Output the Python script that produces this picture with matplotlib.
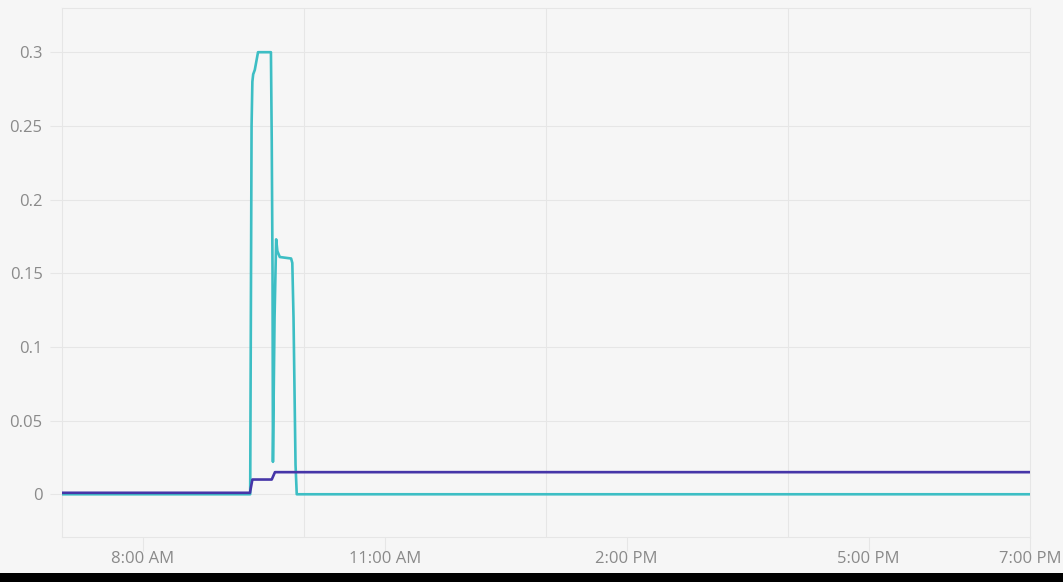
import numpy as np
import matplotlib
matplotlib.use("Agg")
import matplotlib.pyplot as plt
from matplotlib.patches import Rectangle

plt.rcParams['font.family'] = ['Open Sans', 'DejaVu Sans']

# time in hours of the day
purple_t = [7.0, 9.33, 9.36, 9.60, 9.64, 19.0]
purple_v = [0.001, 0.001, 0.01, 0.01, 0.015, 0.015]

cyan_t = [7.0, 9.333, 9.35, 9.36, 9.37, 9.39, 9.43, 9.59, 9.60, 9.61, 9.615,
          9.635, 9.655, 9.67, 9.70, 9.84, 9.855, 9.87, 9.895, 9.91, 19.0]
cyan_v = [0.0, 0.0, 0.25, 0.28, 0.285, 0.288, 0.3, 0.3, 0.24, 0.15, 0.022,
          0.12, 0.173, 0.165, 0.161, 0.16, 0.157, 0.12, 0.02, 0.0, 0.0]

xtick_pos = [8, 11, 14, 17, 19]
xtick_lab = ["8:00 AM", "11:00 AM", "2:00 PM", "5:00 PM", "7:00 PM"]
xgrid_pos = [10, 13, 16, 19]
ytick_pos = [0, 0.05, 0.1, 0.15, 0.2, 0.25, 0.3]
ytick_lab = ["0", "0.05", "0.1", "0.15", "0.2", "0.25", "0.3"]

BG = '#f6f6f6'
GRID = '#e6e6e6'
TXT = '#8a8a8a'

fig = plt.figure(figsize=(10.63, 5.82), dpi=100, facecolor=BG)
ax = fig.add_axes([62/1063, 1-537/582, (1030-62)/1063, (537-8)/582])
ax.set_facecolor(BG)

ax.plot(cyan_t, cyan_v, color='#3dbec4', lw=1.9, zorder=3)
ax.plot(purple_t, purple_v, color='#4636a8', lw=1.9, zorder=4)

ax.set_xlim(7, 19)
ax.set_ylim(-0.029, 0.33)

ax.set_xticks(xtick_pos)
ax.set_xticklabels(xtick_lab)
ax.set_xticks(xgrid_pos, minor=True)
ax.set_yticks(ytick_pos)
ax.set_yticklabels(ytick_lab)

ax.tick_params(axis='x', which='major', length=10, width=0.8, color=GRID,
               labelsize=12, labelcolor=TXT, pad=0)
ax.tick_params(axis='x', which='minor', length=0)
ax.tick_params(axis='y', length=9, width=0.8, color=GRID,
               labelsize=12, labelcolor=TXT, pad=5)

ax.grid(True, axis='y', which='major', color=GRID, lw=0.8)
ax.grid(True, axis='x', which='minor', color=GRID, lw=0.8)
ax.grid(False, axis='x', which='major')
ax.set_axisbelow(True)

for s in ax.spines.values():
    s.set_color(GRID)
    s.set_linewidth(0.8)

# dark strip along the bottom edge of the screenshot
fig.patches.append(Rectangle((0, 0), 1, 9/582, transform=fig.transFigure,
                             facecolor='black', edgecolor='none', zorder=10))

fig.savefig("out.png", dpi=100, facecolor=BG)
